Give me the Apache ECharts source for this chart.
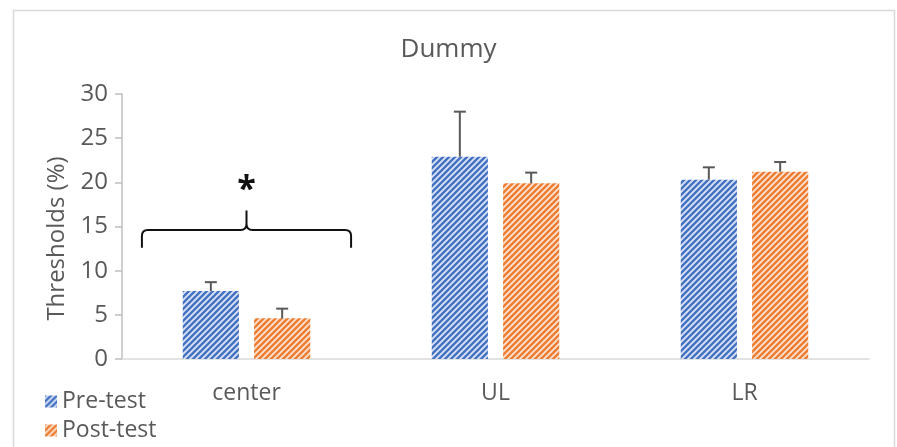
<!DOCTYPE html>
<html>
<head>
<meta charset="utf-8">
<script src="https://cdn.jsdelivr.net/npm/echarts@6/dist/echarts.min.js"></script>
<style>
  html, body { margin: 0; padding: 0; background: #ffffff; }
  #chart { width: 897px; height: 447px; }
</style>
</head>
<body>
<div id="chart"></div>
<script>
// Threshold means per region, before and after the test
const categories = ['center', 'UL', 'LR'];
const preTest = [7.7, 22.9, 20.3];
const postTest = [4.6, 19.9, 21.2];
// upper error (SD) for each bar
const preErr = [1.0, 5.1, 1.4];
const postErr = [1.1, 1.2, 1.1];
const yTicks = [0, 5, 10, 15, 20, 25, 30];
// significance bracket over the first group
const bracketLevel = 14.6;
const bracketMark = '*';

const FONT = '"Open Sans", Lato, sans-serif';
const TEXT = '#595959';
const CAT_GAP = 0.488;
const BAR_GAP = 0.27;

// diagonal-stripe fill used by both series
function stripes(fg, bg) {
  const s = 6;
  const c = document.createElement('canvas');
  c.width = s; c.height = s;
  const ctx = c.getContext('2d');
  ctx.fillStyle = bg;
  ctx.fillRect(0, 0, s, s);
  ctx.strokeStyle = fg;
  ctx.lineWidth = 2.4;
  ctx.beginPath();
  ctx.moveTo(-1, s + 1); ctx.lineTo(s + 1, -1);
  ctx.moveTo(-s / 2 - 1, s / 2 + 1); ctx.lineTo(s / 2 + 1, -s / 2 - 1);
  ctx.moveTo(s / 2 - 1, s * 1.5 + 1); ctx.lineTo(s * 1.5 + 1, s / 2 - 1);
  ctx.stroke();
  return { image: c, repeat: 'repeat' };
}
const preFill = stripes('#4472C4', '#DCE4F4');
const postFill = stripes('#ED7D31', '#FBE2D2');

// x offset of each bar from its category centre
function barOffset(band, which) {
  const w = band * (1 - CAT_GAP) / (2 + BAR_GAP);
  const d = (w + w * BAR_GAP) / 2;
  return which === 0 ? -d : d;
}

function errorItem(which) {
  return function (params, api) {
    const idx = api.value(0);
    const top = api.value(1);
    const val = api.value(2);
    const band = api.size([1, 0])[0];
    const base = api.coord([idx, val]);
    const tip = api.coord([idx, top]);
    const x = base[0] + barOffset(band, which);
    const cap = 6;
    const style = { stroke: '#595959', lineWidth: 2 };
    return {
      type: 'group',
      children: [
        { type: 'line', shape: { x1: x, y1: base[1], x2: x, y2: tip[1] }, style: style },
        { type: 'line', shape: { x1: x - cap, y1: tip[1], x2: x + cap, y2: tip[1] }, style: style }
      ]
    };
  };
}

function bracketItem(params, api) {
  const idx = api.value(0);
  const lvl = api.value(1);
  const band = api.size([1, 0])[0];
  const unit = api.size([0, 1])[1];
  const c = api.coord([idx, lvl]);
  const half = band * 0.42;
  const xl = c[0] - half, xr = c[0] + half, y = c[1];
  const drop = unit * 2.0;
  const rise = unit * 2.2;
  const r = 6;
  const cx = c[0];
  const path =
    'M' + xl + ' ' + (y + drop) +
    ' L' + xl + ' ' + (y + r) +
    ' Q' + xl + ' ' + y + ' ' + (xl + r) + ' ' + y +
    ' L' + (cx - r) + ' ' + y +
    ' Q' + cx + ' ' + y + ' ' + cx + ' ' + (y - r) +
    ' L' + cx + ' ' + (y - rise) +
    ' M' + cx + ' ' + (y - r) +
    ' Q' + cx + ' ' + y + ' ' + (cx + r) + ' ' + y +
    ' L' + (xr - r) + ' ' + y +
    ' Q' + xr + ' ' + y + ' ' + xr + ' ' + (y + r) +
    ' L' + xr + ' ' + (y + drop);
  const star = api.coord([idx, lvl + 4.5]);
  return {
    type: 'group',
    children: [
      { type: 'path', shape: { pathData: path }, style: { stroke: '#111', lineWidth: 2, fill: null } },
      { type: 'text', x: star[0], y: star[1], style: { text: bracketMark, font: 'bold 34px ' + FONT, fill: '#111', align: 'center', verticalAlign: 'middle' } }
    ]
  };
}

const chart = echarts.init(document.getElementById('chart'), null, { renderer: 'canvas' });
chart.setOption({
  animation: false,
  backgroundColor: '#ffffff',
  graphic: [{
    type: 'rect', left: 11, top: 8, shape: { width: 881, height: 470 },
    style: { fill: null, stroke: '#D9D9D9', lineWidth: 1.5 }, silent: true
  }],
  title: {
    text: 'Dummy', left: 'center', top: 32,
    textStyle: { fontFamily: FONT, fontSize: 26, fontWeight: 'normal', color: TEXT }
  },
  legend: {
    orient: 'vertical', left: 40, top: 385, itemGap: 6,
    itemWidth: 12, itemHeight: 12, icon: 'rect',
    data: ['Pre-test', 'Post-test'],
    textStyle: { fontFamily: FONT, fontSize: 23, color: TEXT, padding: [0, 0, 0, 0] }
  },
  grid: { left: 122, right: 28, top: 94, bottom: 88 },
  xAxis: {
    type: 'category', data: categories,
    axisLine: { lineStyle: { color: '#D9D9D9', width: 1.5 } },
    axisTick: { show: false },
    axisLabel: { fontFamily: FONT, fontSize: 23, color: TEXT, margin: 23 }
  },
  yAxis: {
    type: 'value', min: yTicks[0], max: yTicks[yTicks.length - 1], interval: yTicks[1] - yTicks[0],
    name: 'Thresholds (%)', nameLocation: 'middle', nameGap: 50,
    nameTextStyle: { fontFamily: FONT, fontSize: 24, color: TEXT, padding: [0, 24, 0, 0] },
    axisLine: { show: true, lineStyle: { color: '#BFBFBF', width: 1.5 } },
    axisTick: { show: true, length: 7, lineStyle: { color: '#BFBFBF', width: 1.5 } },
    splitLine: { show: false },
    axisLabel: { fontFamily: FONT, fontSize: 24, color: TEXT, margin: 14 }
  },
  series: [
    { name: 'Pre-test', type: 'bar', data: preTest, barGap: (BAR_GAP * 100) + '%', barCategoryGap: (CAT_GAP * 100) + '%', itemStyle: { color: preFill } },
    { name: 'Post-test', type: 'bar', data: postTest, itemStyle: { color: postFill } },
    { type: 'custom', renderItem: errorItem(0), data: categories.map((c, i) => [i, preTest[i] + preErr[i], preTest[i]]), z: 5, silent: true },
    { type: 'custom', renderItem: errorItem(1), data: categories.map((c, i) => [i, postTest[i] + postErr[i], postTest[i]]), z: 5, silent: true },
    { type: 'custom', renderItem: bracketItem, data: [[0, bracketLevel]], z: 6, silent: true }
  ]
});
</script>
</body>
</html>
